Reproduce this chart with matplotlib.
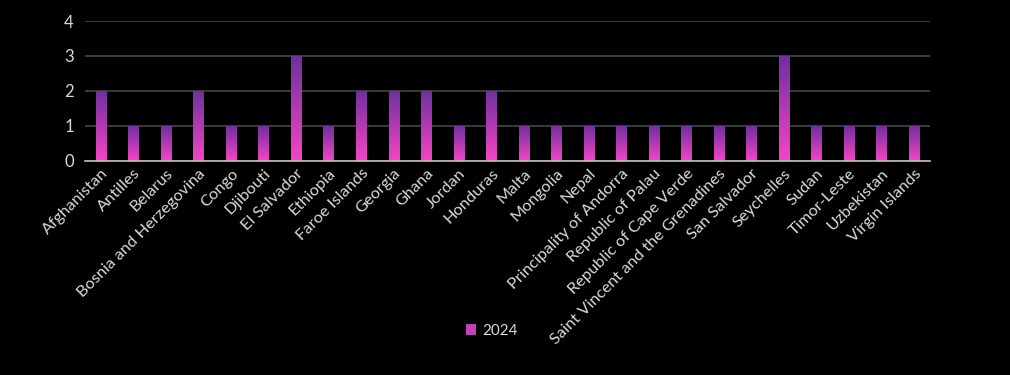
import numpy as np
import matplotlib
matplotlib.use("Agg")
import matplotlib.pyplot as plt
from matplotlib.colors import LinearSegmentedColormap
from matplotlib.patches import Patch

categories = ["Afghanistan", "Antilles", "Belarus", "Bosnia and Herzegovina", "Congo",
              "Djibouti", "El Salvador", "Ethiopia", "Faroe Islands", "Georgia", "Ghana",
              "Jordan", "Honduras", "Malta", "Mongolia", "Nepal", "Principality of Andorra",
              "Republic of Palau", "Republic of Cape Verde",
              "Saint Vincent and the Grenadines", "San Salvador", "Seychelles", "Sudan",
              "Timor-Leste", "Uzbekistan", "Virgin Islands"]
values_2024 = [2, 1, 1, 2, 1, 1, 3, 1, 2, 2, 2, 1, 2, 1, 1, 1, 1, 1, 1, 1, 1, 3, 1, 1, 1, 1]
series_name = "2024"
y_ticks = [0, 1, 2, 3, 4]

plt.rcParams['font.family'] = ['Lato', 'DejaVu Sans']
txt = '#d9d9d9'
top_col = '#7030a0'
bot_col = '#f545c5'
cmap = LinearSegmentedColormap.from_list('g', [bot_col, top_col])

fig = plt.figure(figsize=(10.1, 3.75), dpi=100, facecolor='black')
ax = fig.add_axes([0.084, 0.571, 0.837, 0.373])
ax.set_facecolor('black')

x = np.arange(len(categories))
bars = ax.bar(x, values_2024, width=0.32, color='none', edgecolor='none', zorder=3)
grad = np.linspace(0, 1, 256).reshape(-1, 1)
for b in bars:
    x0, y0 = b.get_x(), b.get_y()
    w, h = b.get_width(), b.get_height()
    im = ax.imshow(grad, cmap=cmap, origin='lower', aspect='auto',
                   extent=[x0, x0 + w, y0, y0 + h], zorder=3)
    im.set_clip_path(b)

ax.set_xlim(-0.5, len(categories) - 0.5)
ax.set_ylim(0, 4)
ax.set_yticks(y_ticks)
ax.set_yticklabels([str(t) for t in y_ticks], color=txt, fontsize=12)
ax.set_xticks(x)
ax.set_xticklabels(categories, rotation=45, ha='right', rotation_mode='anchor',
                   color=txt, fontsize=11.8)
ax.tick_params(length=0, pad=8)
ax.tick_params(axis='x', pad=4)
ax.grid(axis='y', color='#454545', linewidth=1.2, zorder=0)
for s in ['top', 'right', 'left']:
    ax.spines[s].set_visible(False)
ax.spines['bottom'].set_color('#bfbfbf')
ax.spines['bottom'].set_linewidth(1.2)
ax.spines['bottom'].set_zorder(4)

handle = Patch(facecolor='#c040b8', edgecolor='none')
leg = fig.legend([handle], [series_name], loc='center', bbox_to_anchor=(0.487, 0.117),
                 frameon=False, fontsize=11, handlelength=0.7, handleheight=0.7,
                 handletextpad=0.4)
for t in leg.get_texts():
    t.set_color(txt)

fig.savefig('out.png', dpi=100, facecolor='black')
